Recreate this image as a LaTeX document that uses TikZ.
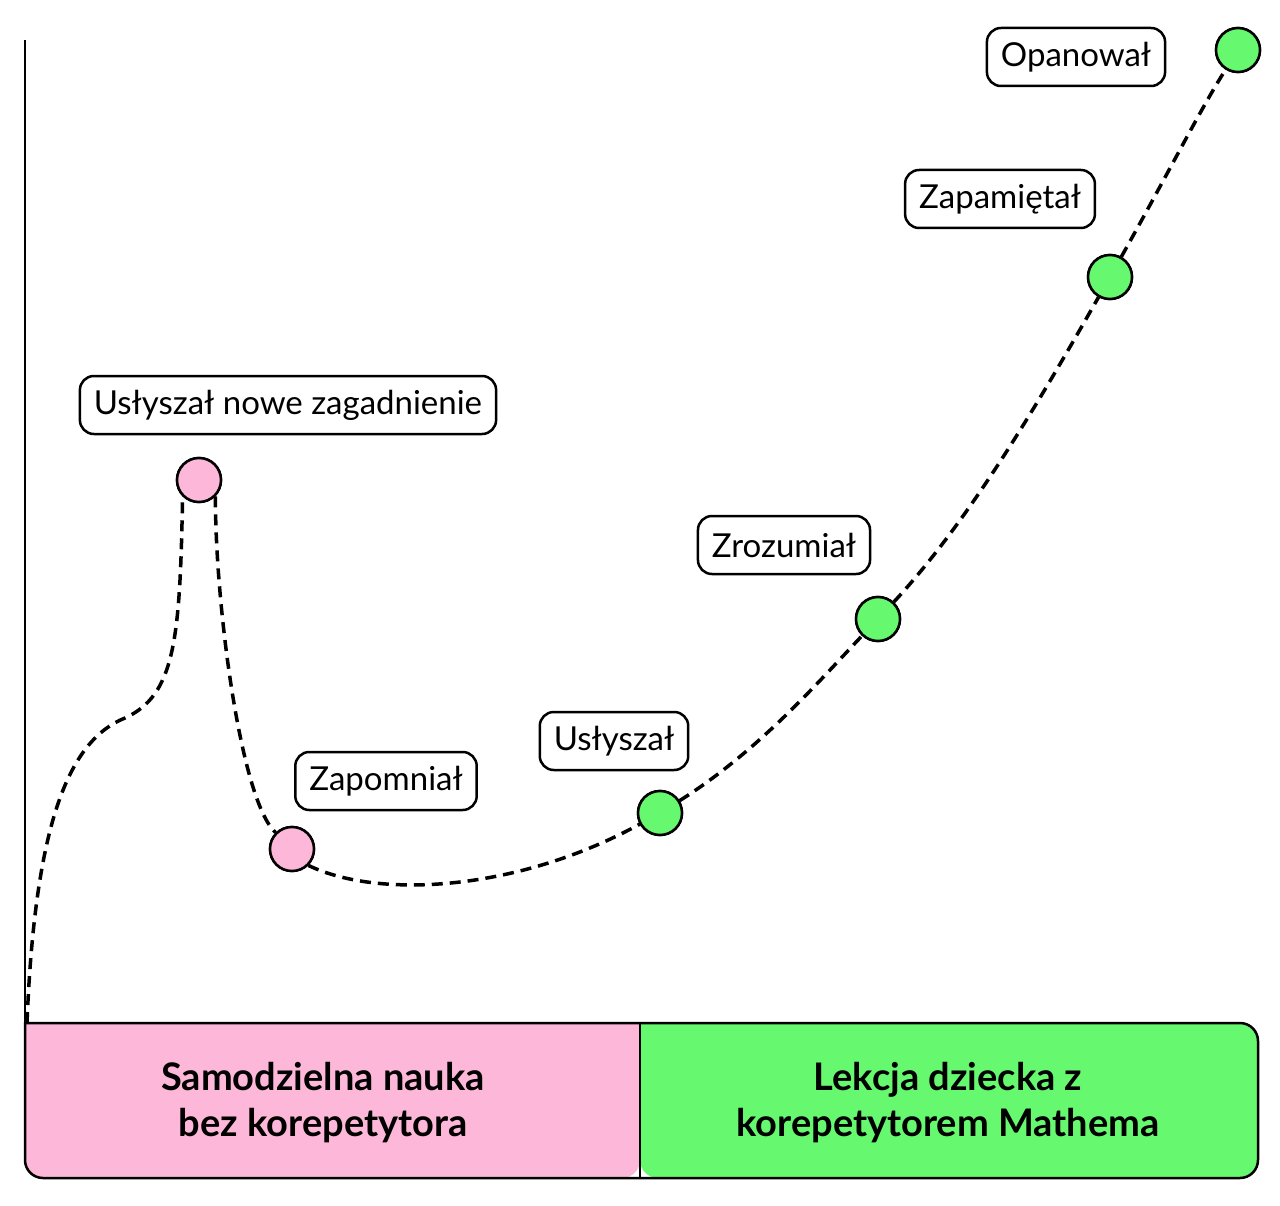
\documentclass[tikz,border=0pt]{standalone}
\usepackage{fontspec}
\setmainfont{Lato}
\usetikzlibrary{positioning}
\definecolor{pinkfill}{HTML}{FDB7D9}
\definecolor{greenfill}{HTML}{66F86F}
\begin{document}
\begin{tikzpicture}[x=1pt, y=-1pt,
    stage/.style={rectangle, draw, line width=2.5pt, rounded corners=14pt, fill=white, minimum height=58pt, inner xsep=14pt, font=\fontsize{33}{38}\selectfont},
    dot/.style={circle, draw, line width=2.5pt, minimum size=44pt, inner sep=0pt},
    path/.style={line width=3.5pt, dash pattern=on 11pt off 7pt}
]
    \useasboundingbox (0,0) rectangle (1280,1206);

    % Axis
    \coordinate (top) at (25,40);
    \coordinate (start) at (27,1023);
    \draw [line width=2pt] (top) -- (25,1023);

    % Bottom bar
    \fill [pinkfill, rounded corners=18pt] (25,1023) -- (25,1178) -- (640,1178) [sharp corners] -- (640,1023) -- cycle;
    \fill [greenfill, rounded corners=18pt] (640,1023) -- (640,1178) -- (1258,1178) -- (1258,1023) [sharp corners] -- cycle;
    \draw [line width=2.5pt, rounded corners=18pt] (25,1023) -- (25,1178) -- (1258,1178) -- (1258,1023) [sharp corners] -- cycle;
    \draw [line width=2.5pt] (640,1023) -- (640,1178);
    \node [align=center, font=\bfseries\fontsize{38}{46}\selectfont] (alone) at (323,1103) {Samodzielna nauka\\bez korepetytora};
    \node [align=center, font=\bfseries\fontsize{38}{46}\selectfont] (tutor) at (948,1103) {Lekcja dziecka z\\korepetytorem Mathema};

    % Points
    \node [dot, fill=pinkfill] (heard1) at (199,480) {};
    \node [dot, fill=pinkfill] (forgot) at (292,849) {};
    \node [dot, fill=greenfill] (heard2) at (660,813) {};
    \node [dot, fill=greenfill] (understood) at (878,619) {};
    \node [dot, fill=greenfill] (remembered) at (1110,277) {};
    \node [dot, fill=greenfill] (mastered) at (1238,50) {};

    % Labels
    \node [stage] at (288,405) {Usłyszał nowe zagadnienie};
    \node [stage] at (386,781) {Zapomniał};
    \node [stage] at (614,741) {Usłyszał};
    \node [stage] at (784,545) {Zrozumiał};
    \node [stage] at (1000,199) {Zapamiętał};
    \node [stage] at (1076,57) {Opanował};

    % Curve
    \draw [path] (start) .. controls (35,820) and (70,740) .. (125,718)
        .. controls (175,695) and (180,640) .. (heard1.south west);
    \draw [path] (heard1.south east) .. controls (215,600) and (240,800) .. (forgot.north west);
    \draw [path] (forgot.south east) .. controls (380,900) and (520,890) .. (heard2);
    \draw [path] (heard2) .. controls (760,750) and (820,680) .. (understood);
    \draw [path] (understood) .. controls (970,520) and (1040,400) .. (remembered);
    \draw [path] (remembered) .. controls (1170,170) and (1200,110) .. (mastered);
    \node [dot, fill=pinkfill] at (heard1) {};
    \node [dot, fill=pinkfill] at (forgot) {};
    \foreach \p in {heard2, understood, remembered, mastered}
        \node [dot, fill=greenfill] at (\p) {};
\end{tikzpicture}
\end{document}
